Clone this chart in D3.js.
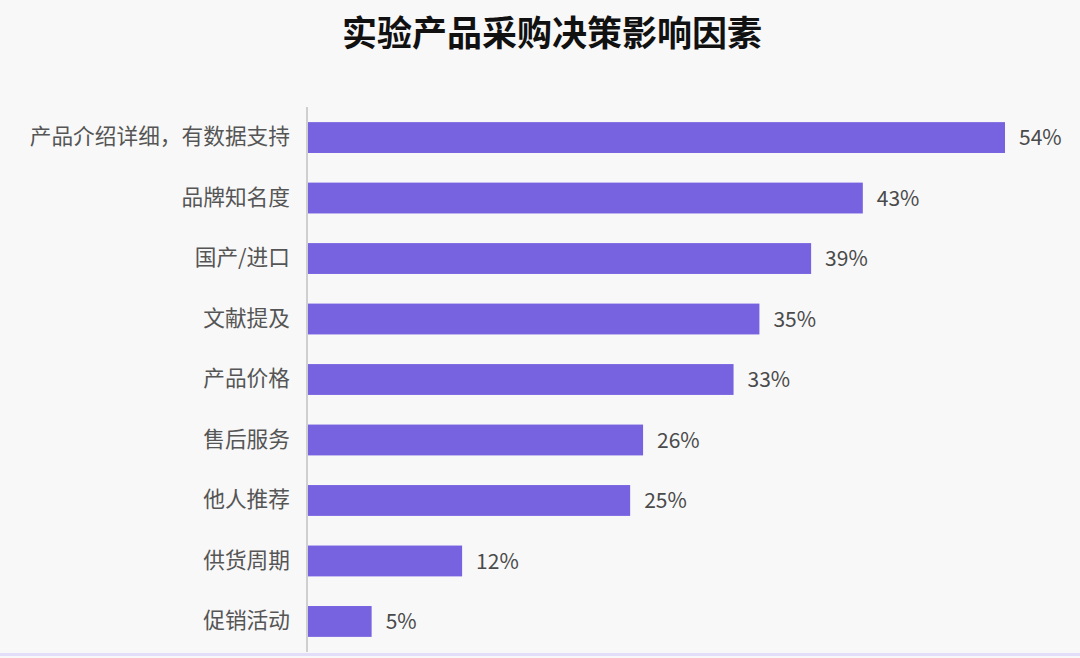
<!DOCTYPE html>
<html><head><meta charset="utf-8">
<script src="https://cdn.jsdelivr.net/npm/d3@7"></script>
<style>
html,body{margin:0;padding:0;background:#f8f8f8;}
svg{display:block;font-family:"Noto Sans CJK SC","Noto Sans",sans-serif;}
</style></head>
<body>
<svg id="chart" width="1080" height="658"></svg>
<script>
const title = "实验产品采购决策影响因素";
const categories = ["产品介绍详细，有数据支持","品牌知名度","国产/进口","文献提及","产品价格","售后服务","他人推荐","供货周期","促销活动"];
const values = [54,43,39,35,33,26,25,12,5];

const W = 1080, H = 658;
const svg = d3.select("#chart");
svg.append("rect").attr("width",W).attr("height",H).attr("fill","#f8f8f8");

const x0 = 307;
const x = d3.scaleLinear().domain([0,54]).range([x0,1005]);
const y = d3.scaleBand().domain(categories).range([107,652]).paddingInner(0.49).paddingOuter(0.25);

svg.append("text").attr("x",552).attr("y",46).attr("text-anchor","middle")
  .attr("font-size",35).attr("font-weight",700).attr("fill","#111").text(title);

svg.append("g").selectAll("rect").data(categories).join("rect")
  .attr("x",x(0)).attr("y",d=>y(d)).attr("height",y.bandwidth())
  .attr("width",(d,i)=>x(values[i])-x(0)).attr("fill","#7762e0");

const yAxis = d3.axisLeft(y).tickSize(0).tickPadding(17);
const ga = svg.append("g").attr("transform",`translate(${x0},0)`).call(yAxis);
ga.select(".domain").remove();
ga.selectAll("text").attr("font-size",21.7).attr("fill","#555").attr("font-family","'Noto Sans CJK SC',sans-serif");

svg.append("line").attr("x1",x0).attr("x2",x0).attr("y1",107).attr("y2",652)
  .attr("stroke","#cfcfcf").attr("stroke-width",2);

svg.append("g").selectAll("text").data(categories).join("text")
  .attr("x",(d,i)=>x(values[i])+14).attr("y",d=>y(d)+y.bandwidth()/2)
  .attr("dy","0.36em").attr("font-size",21).attr("fill","#4a4a4a")
  .text((d,i)=>values[i]+"%");

svg.append("rect").attr("x",0).attr("y",653).attr("width",W).attr("height",3).attr("fill","#e2defa");
</script>
</body></html>
